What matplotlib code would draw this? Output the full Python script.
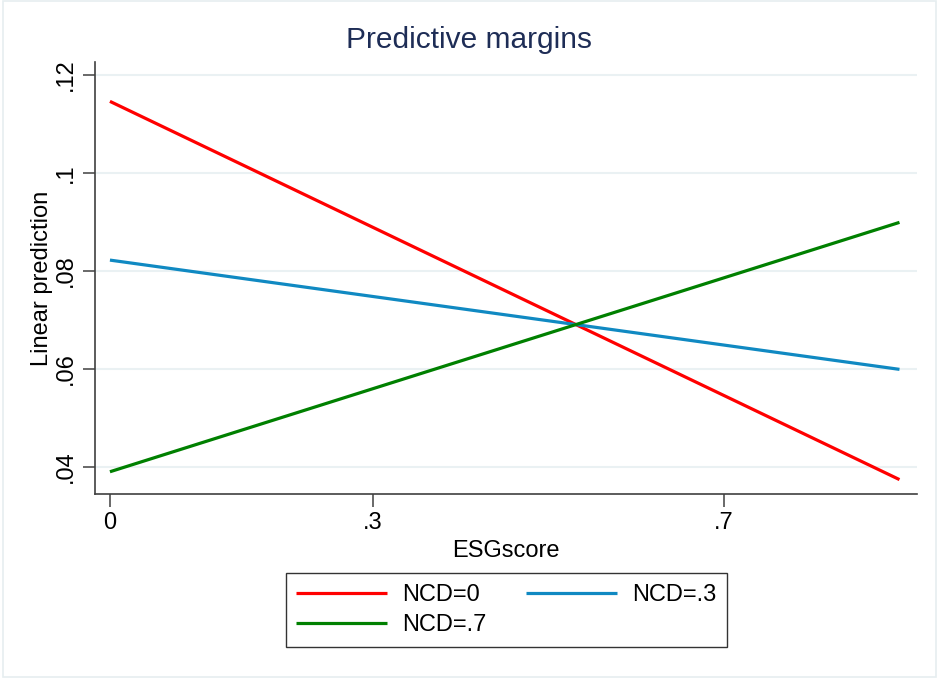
import numpy as np
import matplotlib.pyplot as plt
from matplotlib.patches import Rectangle

# DATOS
esg = [0, 0.9]
ncdLabels = ["NCD=0", "NCD=.3", "NCD=.7"]
ncd0 = [0.1146, 0.0374]
ncd3 = [0.0822, 0.0599]
ncd7 = [0.0390, 0.0899]
colors = ["#ff0000", "#1089c2", "#008000"]

xTicks = [0, 0.3, 0.7]
xTickLabels = ["0", ".3", ".7"]
yTicks = [0.04, 0.06, 0.08, 0.10, 0.12]
yTickLabels = [".04", ".06", ".08", ".1", ".12"]

plt.rcParams['font.family'] = ['Liberation Sans', 'DejaVu Sans']

fig = plt.figure(figsize=(9.39, 6.8), dpi=100)
ax = fig.add_axes([0.1012, 0.2731, 0.8754, 0.6362])

# borde exterior tenue (estilo Stata)
fig.patches.append(Rectangle((0.003, 0.004), 0.994, 0.995, transform=fig.transFigure,
                             fill=False, edgecolor="#e6eef0", linewidth=1.2))

handles = []
for vals, lab, col in zip([ncd0, ncd3, ncd7], ncdLabels, colors):
    h, = ax.plot(esg, vals, color=col, linewidth=2.3, label=lab, solid_capstyle="butt")
    handles.append(h)

ax.set_xlim(-0.017, 0.920)
ax.set_ylim(0.0344, 0.1227)

ax.set_xticks(xTicks)
ax.set_xticklabels(xTickLabels)
ax.set_yticks(yTicks)
ax.set_yticklabels(yTickLabels, rotation=90, va="center")

ax.grid(True, axis="y", color="#eaf1f3", linewidth=1.5)
ax.set_axisbelow(True)

for s in ["top", "right"]:
    ax.spines[s].set_visible(False)
for s in ["left", "bottom"]:
    ax.spines[s].set_color("#404040")
    ax.spines[s].set_linewidth(1.2)

ax.tick_params(axis="both", direction="out", length=9, width=1.1, color="#404040",
               labelsize=17, pad=4)

ax.set_xlabel("ESGscore", fontsize=17, labelpad=4)
ax.set_ylabel("Linear prediction", fontsize=17)
ax.yaxis.set_label_coords(-0.051, 0.5)
fig.text(0.5, 0.941, "Predictive margins", fontsize=21.5, color="#1e2d56",
         ha="center", va="center")

# orden fila a fila: NCD=0, NCD=.3 / NCD=.7
leg = fig.legend(handles=[handles[0], handles[2], handles[1]], ncol=2,
                 loc="center", bbox_to_anchor=(0.539, 0.103),
                 fontsize=17, frameon=True, fancybox=False,
                 handlelength=3.85, handletextpad=0.62, columnspacing=1.7,
                 borderpad=0.45, labelspacing=0.35, borderaxespad=0)
leg.get_frame().set_edgecolor("black")
leg.get_frame().set_linewidth(1.0)

fig.savefig("out.png", dpi=100)
